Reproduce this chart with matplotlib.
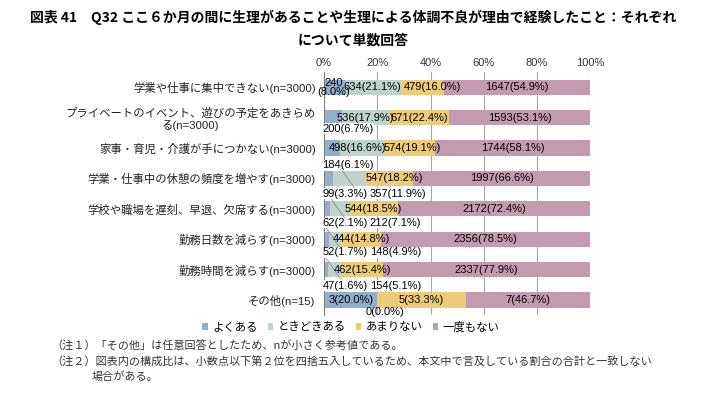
import numpy as np
import matplotlib
matplotlib.use("Agg")
import matplotlib.pyplot as plt

plt.rcParams['font.family'] = ['Liberation Sans', 'Noto Sans CJK JP', 'DejaVu Sans']

# 項目（上から順）
categories = [
    "学業や仕事に集中できない(n=3000)",
    "プライベートのイベント、遊びの予定をあきらめ\nる(n=3000)",
    "家事・育児・介護が手につかない(n=3000)",
    "学業・仕事中の休憩の頻度を増やす(n=3000)",
    "学校や職場を遅刻、早退、欠席する(n=3000)",
    "勤務日数を減らす(n=3000)",
    "勤務時間を減らす(n=3000)",
    "その他(n=15)",
]
series_names = ["よくある", "ときどきある", "あまりない", "一度もない"]

# 回答数と構成比(%)
counts_often = [240, 200, 184, 99, 62, 52, 47, 3]
counts_some = [634, 536, 498, 357, 212, 148, 154, 0]
counts_rare = [479, 671, 574, 547, 544, 444, 462, 5]
counts_never = [1647, 1593, 1744, 1997, 2172, 2356, 2337, 7]

pct_often = [8.0, 6.7, 6.1, 3.3, 2.1, 1.7, 1.6, 20.0]
pct_some = [21.1, 17.9, 16.6, 11.9, 7.1, 4.9, 5.1, 0.0]
pct_rare = [16.0, 22.4, 19.1, 18.2, 18.5, 14.8, 15.4, 33.3]
pct_never = [54.9, 53.1, 58.1, 66.6, 72.4, 78.5, 77.9, 46.7]

colors = ["#93AECB", "#BFD3CE", "#EDCB7A", "#C49AB0"]

counts = [counts_often, counts_some, counts_rare, counts_never]
pcts = [pct_often, pct_some, pct_rare, pct_never]

fig = plt.figure(figsize=(7.06, 3.93), dpi=100)
ax = fig.add_axes([0.459, 0.198, 0.377, 0.619])

y = np.arange(len(categories))
left = np.zeros(len(categories))
bars = []
for name, p, c in zip(series_names, pcts, colors):
    b = ax.barh(y, p, left=left, height=0.5, color=c, label=name, zorder=2)
    bars.append(b)
    left += np.array(p)

ax.set_xlim(0, 100)
ax.set_ylim(len(categories) - 0.5, -0.5)
ax.set_yticks(y)
ax.set_yticklabels(categories, fontsize=8.2, color="#222222", multialignment="center")
ax.tick_params(axis="y", length=0, pad=6)
ax.xaxis.tick_top()
ax.set_xticks(np.arange(0, 101, 20))
ax.set_xticklabels([f"{v}%" for v in range(0, 101, 20)], fontsize=8, color="#333333")
ax.tick_params(axis="x", length=0, pad=3)
ax.grid(axis="x", color="#A6A6A6", lw=0.8, zorder=0)
for s in ["top", "right", "bottom"]:
    ax.spines[s].set_visible(False)
ax.spines["left"].set_color("#808080")
ax.spines["left"].set_zorder(3)

lab_fs = 8
box = dict(facecolor="white", edgecolor="none", pad=0.3)

# 重なりを避けるためのラベルの横ずらし (行, 区分) -> %
nudge = {(0, 1): -0.5, (0, 2): 3.5, (2, 1): -1.8, (2, 2): 1.0, (3, 2): 2.0}


def lab(i, k):
    return f"{counts[k][i]}({pcts[k][i]:.1f}%)"


def seg_center(i, k):
    return sum(pcts[j][i] for j in range(k)) + pcts[k][i] / 2


# 棒の中に入るラベル
for i in range(len(categories)):
    for k in range(4):
        if i == 0 and k == 0:
            ax.text(seg_center(i, k) - 0.5, y[i], f"{counts[k][i]}\n({pcts[k][i]:.1f}%)",
                    ha="center", va="center", fontsize=lab_fs, linespacing=0.9, zorder=5)
            continue
        if i <= 2:
            inside = k >= 1
        elif i == 7:
            inside = k != 1
        else:
            inside = k >= 2
        if inside:
            ax.text(seg_center(i, k) + nudge.get((i, k), 0), y[i], lab(i, k),
                    ha="center", va="center", fontsize=lab_fs, zorder=5)

# 棒の下に出すラベル（小さい区分）
below_off = [0, 0.37, 0.57, 0.5, 0.47, 0.43, 0.53, 0.4]
for i in range(len(categories)):
    yy = y[i] + below_off[i]
    if i in (1, 2):
        ax.text(-0.6, yy, lab(i, 0), ha="left", va="center", fontsize=lab_fs,
                bbox=box, zorder=4)
    elif 3 <= i <= 6:
        t1 = ax.text(-0.6, yy, lab(i, 0), ha="left", va="center", fontsize=lab_fs,
                     bbox=box, zorder=4)
        ax.annotate(lab(i, 1), xy=(1, 0.5), xycoords=t1, xytext=(1.5, 0),
                    textcoords="offset points", ha="left", va="center",
                    fontsize=lab_fs, bbox=box, zorder=4)
        # 引き出し線
        ax.plot([seg_center(i, 1) - 4, seg_center(i, 1) + 2],
                [y[i] - 0.45, y[i] + 0.3], color="#8C8C8C", lw=0.6, zorder=3)
    elif i == 7:
        ax.text(seg_center(i, 0) + 13, yy, lab(i, 1), ha="center", va="center",
                fontsize=lab_fs, zorder=4)

fig.text(0.5, 0.955, "図表 41　Q32 ここ６か月の間に生理があることや生理による体調不良が理由で経験したこと：それぞれ",
         ha="center", va="center", fontsize=10, fontweight="bold",
         family=["Noto Sans CJK JP", "DejaVu Sans"])
fig.text(0.5, 0.898, "について単数回答", ha="center", va="center", fontsize=10,
         fontweight="bold", family=["Noto Sans CJK JP", "DejaVu Sans"])

leg = fig.legend(handles=bars, labels=series_names, loc="center", ncol=4,
                 bbox_to_anchor=(0.497, 0.168), frameon=False, fontsize=8.2,
                 handlelength=0.45, handleheight=0.45, handletextpad=0.4,
                 columnspacing=0.9)

note_kw = dict(fontsize=8, color="#333333", family=["Noto Sans CJK JP", "DejaVu Sans"],
               va="center", ha="left")
fig.text(0.072, 0.12, "（注１）「その他」は任意回答としたため、nが小さく参考値である。", **note_kw)
fig.text(0.072, 0.081, "（注２）図表内の構成比は、小数点以下第２位を四捨五入しているため、本文中で言及している割合の合計と一致しない", **note_kw)
fig.text(0.13, 0.041, "場合がある。", **note_kw)

fig.savefig("out.png", dpi=100)
